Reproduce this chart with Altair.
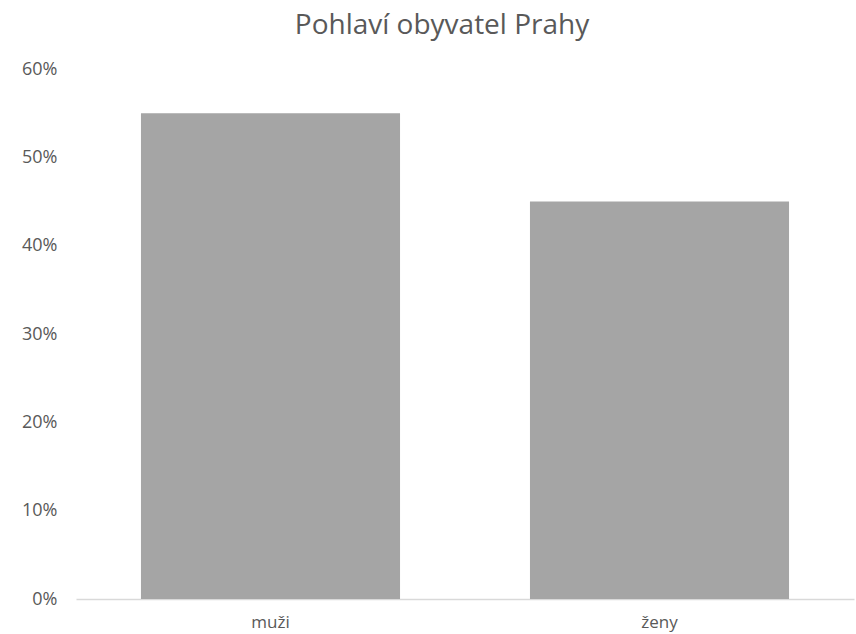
import altair as alt
import pandas as pd

# Share of men and women among Prague residents
categories = ["muži", "ženy"]
shares = [0.55, 0.45]

df = pd.DataFrame({"pohlavi": categories, "podil": shares})

FONT = "Open Sans"
TEXT = "#595959"

chart = (
    alt.Chart(df)
    .mark_bar(color="#a5a5a5")
    .encode(
        x=alt.X(
            "pohlavi:N",
            sort=categories,
            title=None,
            scale=alt.Scale(paddingInner=0.334, paddingOuter=0.167),
            axis=alt.Axis(
                labelAngle=0,
                labelFont=FONT,
                labelFontSize=17,
                labelColor=TEXT,
                labelPadding=15,
                ticks=False,
                domainColor="#d9d9d9",
                domainWidth=1.5,
                grid=False,
            ),
        ),
        y=alt.Y(
            "podil:Q",
            title=None,
            scale=alt.Scale(domain=[0, 0.6], nice=False),
            axis=alt.Axis(
                format=".0%",
                values=[0, 0.1, 0.2, 0.3, 0.4, 0.5, 0.6],
                labelFont=FONT,
                labelFontSize=18,
                labelColor=TEXT,
                labelPadding=19,
                ticks=False,
                domain=False,
                grid=False,
            ),
        ),
    )
    .properties(
        width=778,
        height=530,
        title=alt.TitleParams(
            "Pohlaví obyvatel Prahy",
            font=FONT,
            fontSize=28,
            fontWeight="normal",
            color=TEXT,
            anchor="middle",
            dx=-23,
            offset=20,
        ),
        padding={"left": 76, "top": 69, "right": 2, "bottom": 35},
        autosize=alt.AutoSizeParams(type="none"),
    )
    .configure_view(stroke=None)
)

chart.save("out.html", embed_options={"renderer": "svg", "actions": False})
